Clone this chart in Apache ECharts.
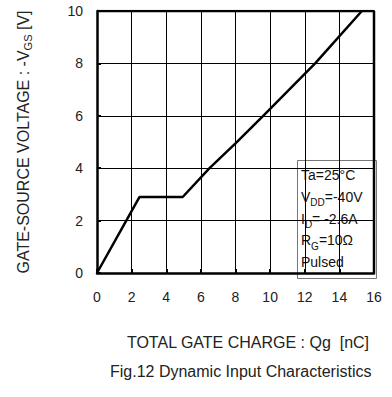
<!DOCTYPE html>
<html>
<head>
<meta charset="utf-8">
<script src="https://cdn.jsdelivr.net/npm/echarts@6/dist/echarts.min.js"></script>
<style>
  html, body { margin: 0; padding: 0; background: #fff; }
  #chart { width: 392px; height: 397px; }
</style>
</head>
<body>
<div id="chart"></div>
<script>
// Gate charge (nC) vs gate-source voltage (-V)
var gateCharge = [0, 2.45, 4.95, 6.5, 8, 9.6, 12.6, 15.3];
var gateVoltage = [0, 2.9, 2.9, 4, 4.95, 6, 8, 10];
var xTicks = [0, 2, 4, 6, 8, 10, 12, 14, 16];
var yTicks = [0, 2, 4, 6, 8, 10];

var FONT = '"Liberation Sans", Arial, sans-serif';

var points = gateCharge.map(function (q, i) { return [q, gateVoltage[i]]; });
var xMin = xTicks[0], xMax = xTicks[xTicks.length - 1];
var yMin = yTicks[0], yMax = yTicks[yTicks.length - 1];

var chart = echarts.init(document.getElementById('chart'), null, { renderer: 'svg' });

chart.setOption({
  animation: false,
  backgroundColor: '#fff',
  grid: { left: 97, top: 11, right: 18, bottom: 124, containLabel: false },
  title: {
    text: 'Fig.12 Dynamic Input Characteristics',
    left: 110,
    top: 363,
    padding: 0,
    textStyle: { fontFamily: FONT, fontSize: 16, fontWeight: 'normal', color: '#222' }
  },
  xAxis: {
    type: 'value',
    min: xMin,
    max: xMax,
    interval: 2,
    name: 'TOTAL GATE CHARGE : Qg  [nC]',
    nameLocation: 'middle',
    nameGap: 61,
    nameTextStyle: { fontFamily: FONT, fontSize: 16, color: '#222', padding: [0, 0, 0, 25] },
    axisLine: { lineStyle: { color: '#000', width: 2.5 } },
    axisTick: { show: true, inside: true, length: 4, lineStyle: { color: '#000', width: 2 } },
    axisLabel: { fontFamily: FONT, fontSize: 14, color: '#222', margin: 17 },
    splitLine: { show: true, lineStyle: { color: '#000', width: 1 } }
  },
  yAxis: {
    type: 'value',
    min: yMin,
    max: yMax,
    interval: 2,
    name: '{n|GATE-SOURCE VOLTAGE : -V}{s|GS}{n| [V]}',
    nameLocation: 'middle',
    nameGap: 64,
    nameRotate: 90,
    nameTextStyle: {
      fontFamily: FONT, color: '#222',
      rich: {
        n: { fontFamily: FONT, fontSize: 16, color: '#222', lineHeight: 19 },
        s: { fontFamily: FONT, fontSize: 11, color: '#222', lineHeight: 13, verticalAlign: 'bottom' }
      }
    },
    axisLine: { show: true, lineStyle: { color: '#000', width: 2.5 } },
    axisTick: { show: true, inside: true, length: 4, lineStyle: { color: '#000', width: 2 } },
    axisLabel: { fontFamily: FONT, fontSize: 14, color: '#222', margin: 14 },
    splitLine: { show: true, lineStyle: { color: '#000', width: 1 } }
  },
  series: [
    {
      type: 'line',
      data: points,
      symbol: 'none',
      lineStyle: { color: '#000', width: 2.5 },
      z: 3
    },
    {
      // top and right borders of the plot frame
      type: 'line',
      data: [[xMin, yMax], [xMax, yMax], [xMax, yMin]],
      symbol: 'none',
      lineStyle: { color: '#000', width: 2.5 },
      z: 2,
      silent: true
    }
  ],
  graphic: [
    {
      type: 'group',
      left: 297,
      top: 160,
      z: 10,
      children: [
        {
          type: 'rect',
          shape: { x: 0, y: 0, width: 79, height: 118 },
          style: { fill: '#fff', stroke: '#777', lineWidth: 1 }
        },
        {
          type: 'text',
          x: 3.5,
          y: 4,
          style: {
            text: '{n|Ta=25°C}\n{n|V}{s|DD}{n|=-40V}\n{n|I}{s|D}{n|= -2.6A}\n{n|R}{s|G}{n|=10Ω}\n{n|Pulsed}',
            fontFamily: FONT,
            fill: '#111',
            rich: {
              n: { fontFamily: FONT, fontSize: 14, lineHeight: 21.7, fill: '#111' },
              s: { fontFamily: FONT, fontSize: 10, lineHeight: 14, fill: '#111', verticalAlign: 'bottom' }
            }
          }
        }
      ]
    }
  ]
});
</script>
</body>
</html>
